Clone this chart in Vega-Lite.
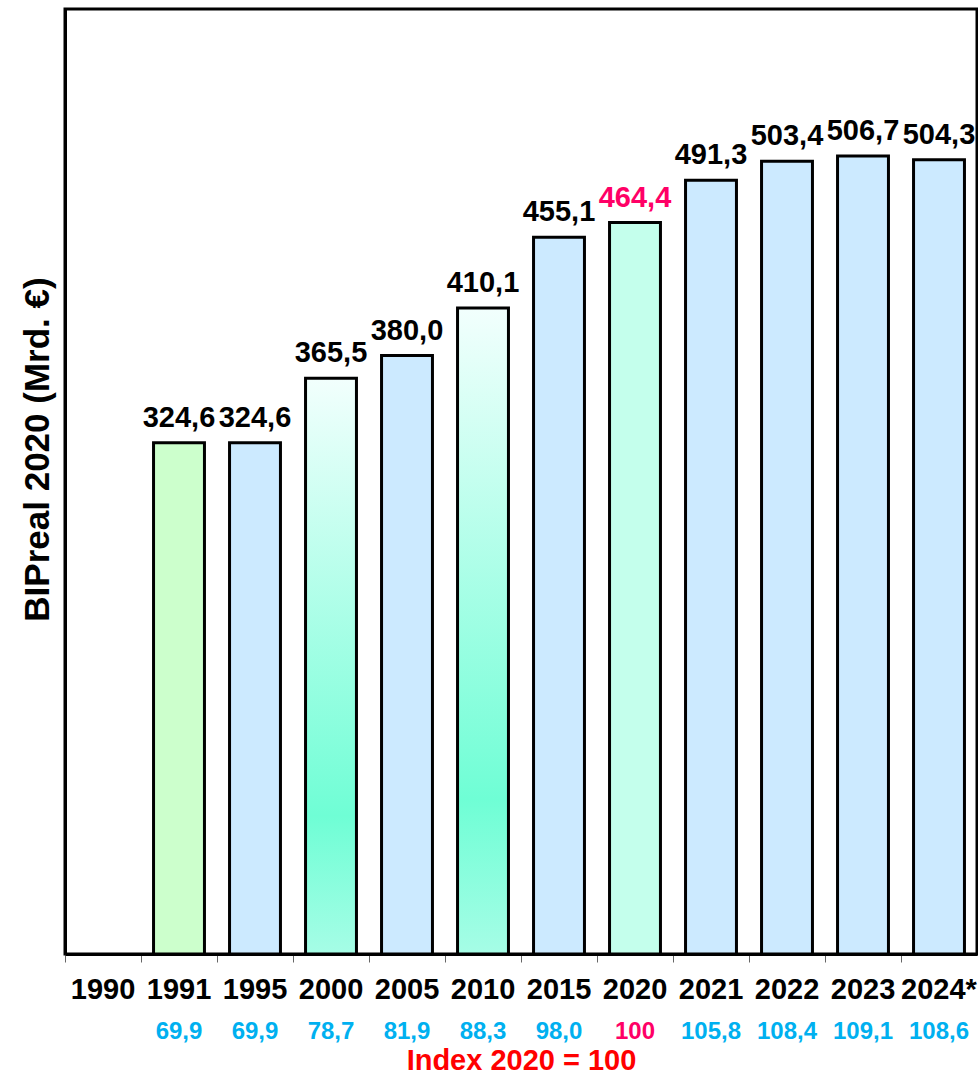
{
  "$schema": "https://vega.github.io/schema/vega-lite/v6.json",
  "autosize": {"type": "pad"},
  "padding": {"left": 18, "top": 7, "right": 0, "bottom": 0},
  "background": "white",
  "config": {
    "font": "Liberation Sans",
    "locale": {"number": {"decimal": ",", "thousands": ".", "grouping": [3], "currency": ["", " €"]}},
    "view": {"stroke": null}
  },
  "data": {
    "values": [
      {"year": "1990", "bip": null, "idx": null},
      {"year": "1991", "bip": 324.6, "idx": "69,9"},
      {"year": "1995", "bip": 324.6, "idx": "69,9"},
      {"year": "2000", "bip": 365.5, "idx": "78,7"},
      {"year": "2005", "bip": 380.0, "idx": "81,9"},
      {"year": "2010", "bip": 410.1, "idx": "88,3"},
      {"year": "2015", "bip": 455.1, "idx": "98,0"},
      {"year": "2020", "bip": 464.4, "idx": "100"},
      {"year": "2021", "bip": 491.3, "idx": "105,8"},
      {"year": "2022", "bip": 503.4, "idx": "108,4"},
      {"year": "2023", "bip": 506.7, "idx": "109,1"},
      {"year": "2024*", "bip": 504.3, "idx": "108,6"}
    ]
  },
  "bounds": "flush",
  "spacing": 64,
  "vconcat": [
    {
      "width": 912,
      "height": 945,
      "view": {"stroke": "black", "strokeWidth": 3},
      "encoding": {
        "x": {
          "field": "year", "type": "nominal", "sort": null,
          "scale": {"domain": ["1990","1991","1995","2000","2005","2010","2015","2020","2021","2022","2023","2024*"], "paddingInner": 0, "paddingOuter": 0},
          "axis": {
            "title": null, "labelAngle": 0, "labelFontSize": 29, "labelFontWeight": "bold", "labelColor": "black",
            "domainColor": "black", "domainWidth": 3, "tickColor": "#666666", "tickWidth": 1, "tickSize": 8,
            "bandPosition": 0, "labelPadding": 13, "grid": false
          }
        }
      },
      "layer": [
        {
          "transform": [{"filter": "datum.bip != null && datum.year != '2000' && datum.year != '2010'"}],
          "mark": {"type": "bar", "stroke": "black", "strokeWidth": 3, "width": {"band": 0.67}},
          "encoding": {
            "y": {
              "field": "bip", "type": "quantitative",
              "scale": {"domain": [0, 600], "nice": false, "zero": true},
              "axis": {
                "title": "BIPreal 2020 (Mrd. €)", "labels": false, "ticks": false, "grid": false,
                "domainColor": "black", "domainWidth": 3,
                "titleFontSize": 35, "titleFontWeight": "bold", "titleColor": "black",
                "titleX": -28, "titleY": 440, "titleAlign": "center", "titleBaseline": "middle", "titleAngle": -90
              }
            },
            "fill": {
              "condition": [
                {"test": "datum.year == '1991'", "value": "#ccffcc"},
                {"test": "datum.year == '2020'", "value": "#c4ffec"}
              ],
              "value": "#cceaff"
            }
          }
        },
        {
          "transform": [{"filter": "datum.year == '2000' || datum.year == '2010'"}],
          "mark": {
            "type": "bar", "stroke": "black", "strokeWidth": 3, "width": {"band": 0.67},
            "fill": {
              "gradient": "linear", "x1": 0, "y1": 0, "x2": 0, "y2": 1,
              "stops": [
                {"offset": 0, "color": "#f2fffd"},
                {"offset": 0.76, "color": "#6ffed5"},
                {"offset": 1, "color": "#a6fde6"}
              ]
            }
          },
          "encoding": {"y": {"field": "bip", "type": "quantitative"}}
        },
        {
          "transform": [{"filter": "datum.bip != null"}],
          "mark": {"type": "text", "fontSize": 29, "fontWeight": "bold", "baseline": "alphabetic", "dy": -16},
          "encoding": {
            "y": {"field": "bip", "type": "quantitative"},
            "text": {"field": "bip", "type": "quantitative", "format": ".1f"},
            "color": {"condition": {"test": "datum.year == '2020'", "value": "#ff0066"}, "value": "black"}
          }
        }
      ]
    },
    {
      "width": 912,
      "height": 28,
      "transform": [{"filter": "datum.idx != null"}],
      "mark": {"type": "text", "fontSize": 24, "fontWeight": "bold"},
      "encoding": {
        "x": {
          "field": "year", "type": "nominal", "sort": null,
          "scale": {"domain": ["1990","1991","1995","2000","2005","2010","2015","2020","2021","2022","2023","2024*"], "paddingInner": 0, "paddingOuter": 0},
          "axis": {
            "title": "Index 2020 = 100", "labels": false, "ticks": false, "domain": false, "grid": false,
            "titleFontSize": 29, "titleFontWeight": "bold", "titleColor": "#ff0000", "titlePadding": 0
          }
        },
        "text": {"field": "idx"},
        "color": {"condition": {"test": "datum.year == '2020'", "value": "#ff0066"}, "value": "#00b0f0"}
      }
    }
  ]
}
